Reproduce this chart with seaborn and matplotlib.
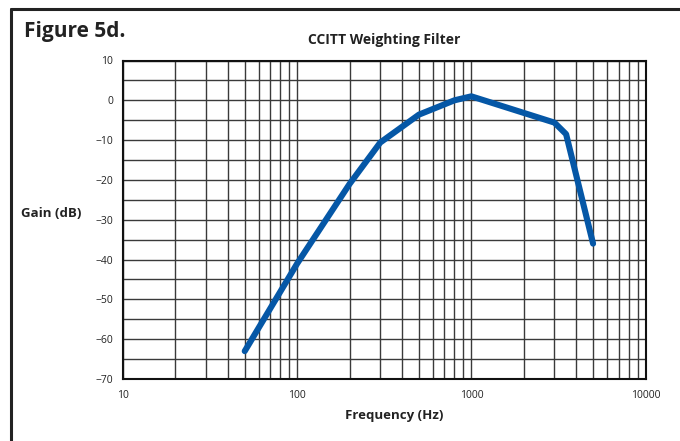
import matplotlib
matplotlib.use("Agg")
import matplotlib.pyplot as plt
import matplotlib.ticker as mticker
from matplotlib.lines import Line2D
import seaborn as sns
import pandas as pd

freq_hz = [50, 100, 200, 300, 500, 800, 1000, 3000, 3500, 5000]
gain_db = [-63, -41, -21, -10.6, -3.6, 0, 1.0, -5.6, -8.5, -36]
x_ticks = [10, 100, 1000, 10000]
x_tick_labels = ["10", "100", "1000", "10000"]
y_ticks = [10, 0, -10, -20, -30, -40, -50, -60, -70]
y_tick_labels = ["10", "0", "\u221210", "\u221220", "\u221230", "\u221240", "\u221250", "\u221260", "\u221270"]

sns.set_style("white")
plt.rcParams["font.family"] = ["Open Sans", "DejaVu Sans"]

df = pd.DataFrame({"Frequency (Hz)": freq_hz, "Gain (dB)": gain_db})

fig = plt.figure(figsize=(6.8, 4.41), dpi=100)
ax = fig.add_axes([123/680, 1-379/441, (645.5-123)/680, (379-60.5)/441])

sns.lineplot(data=df, x="Frequency (Hz)", y="Gain (dB)", ax=ax,
             color="#0557a6", linewidth=4.4, solid_capstyle="round",
             solid_joinstyle="round", zorder=5)

ax.set_xscale("log")
ax.set_xlim(10, 10000)
ax.set_ylim(-70, 10)
ax.set_xticks(x_ticks)
ax.set_xticklabels(x_tick_labels)
ax.set_yticks(y_ticks)
ax.set_yticklabels(y_tick_labels)
ax.xaxis.set_minor_locator(mticker.LogLocator(base=10, subs=range(2, 10)))
ax.xaxis.set_minor_formatter(mticker.NullFormatter())
ax.yaxis.set_minor_locator(mticker.MultipleLocator(5))

ax.grid(True, which="both", axis="both", color="#3a3a3a", linewidth=1.0)
ax.tick_params(axis="x", which="both", length=0, pad=8, labelsize=7.5, colors="#222222")
ax.tick_params(axis="y", which="major", length=5, width=1, color="#222222", pad=2, labelsize=7.5, labelcolor="#222222")
ax.tick_params(axis="y", which="minor", length=0)

for s in ax.spines.values():
    s.set_visible(True)
    s.set_color("#111111")
    s.set_linewidth(1.5)

ax.set_xlabel("Frequency (Hz)", fontsize=9.5, fontweight="bold", color="#222222")
ax.xaxis.set_label_coords((394-123)/522.5, -(409-379)/318.5)
ax.set_ylabel("Gain (dB)", fontsize=9.5, fontweight="bold", rotation=0, color="#222222")
ax.yaxis.set_label_coords((51-123)/522.5, 0.5)
ax.set_title("CCITT Weighting Filter", fontsize=10, fontweight="bold", pad=12, color="#222222")

fig.text(24/680, 1-31/441, "Figure 5d.", fontsize=15, fontweight="bold", va="center", ha="left", color="#222222")

# page frame (top and left edges)
fig.add_artist(Line2D([11/680, 1.0], [1-9/441, 1-9/441], transform=fig.transFigure, color="#222222", linewidth=2.2))
fig.add_artist(Line2D([11/680, 11/680], [1-9/441, 0.0], transform=fig.transFigure, color="#222222", linewidth=2.2))

fig.savefig("out.png", dpi=100)
